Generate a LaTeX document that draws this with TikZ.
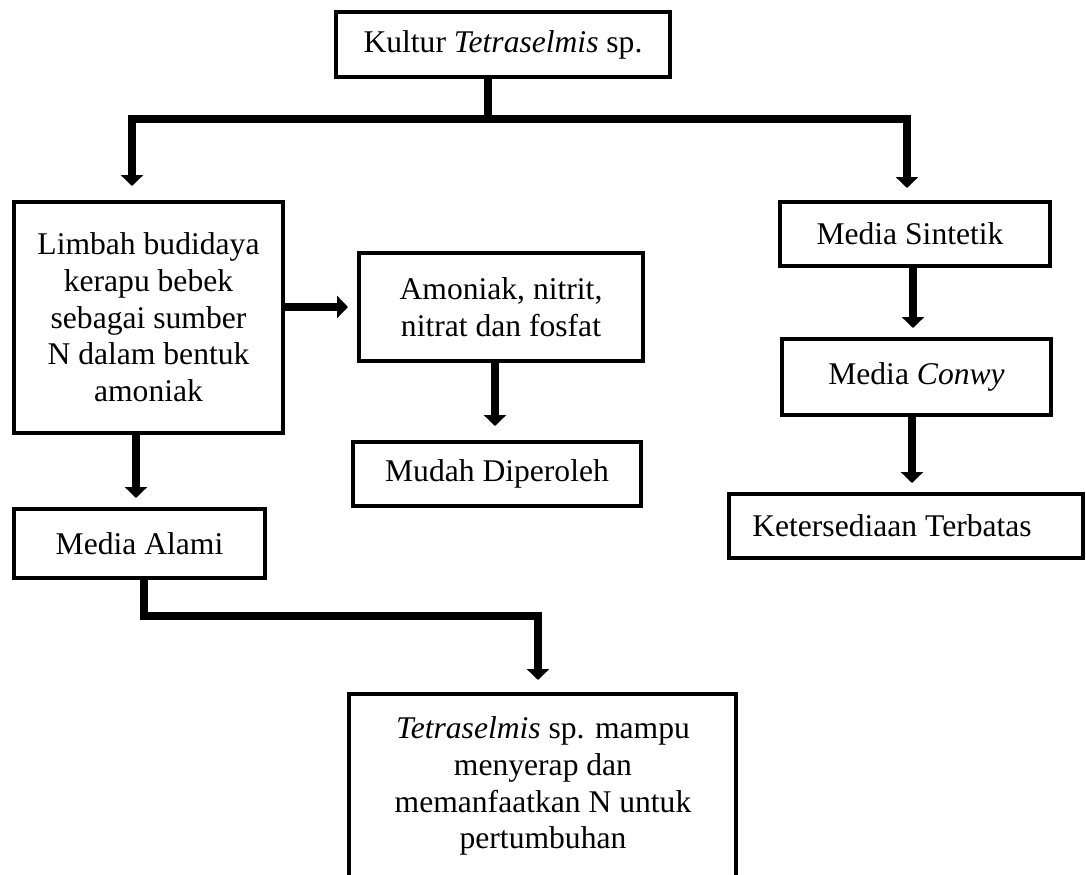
\documentclass[tikz,border=0pt]{standalone}
\usepackage{fontspec}
\setmainfont{Liberation Serif}
\usetikzlibrary{arrows.meta,calc}
\begin{document}
\begin{tikzpicture}[x=0.75pt,y=-0.75pt,
  txtfont/.style={font=\fontsize{23.7pt}{27.5pt}\selectfont},
  box/.style={draw, line width=3pt, inner sep=0pt, align=center, txtfont},
  txt/.style={inner sep=0pt, align=center, txtfont},
  conn/.style={line width=6.4pt, line join=miter},
  arr/.style={conn, -{Triangle[width=16.5pt,length=8.25pt]}}]
\useasboundingbox (0,0) rectangle (1086,875);
\clip (0,0) rectangle (1086,875);

\node[box, minimum width=250.5pt, minimum height=48.75pt] (top) at (503,44.5) {Kultur \textit{Tetraselmis} sp.};
\node[box, minimum width=201.75pt, minimum height=173.25pt] (limbah) at (148.5,317.5) {Limbah budidaya\\kerapu bebek\\sebagai sumber\\N dalam bentuk\\amoniak};
\node[box, minimum width=213pt, minimum height=81pt] (amon) at (501,307) {Amoniak, nitrit,\\nitrat dan fosfat};
\node[box, minimum width=216pt, minimum height=48pt] (mudah) at (497,474) {Mudah Diperoleh};
\node[box, minimum width=188.25pt, minimum height=51.75pt] (alami) at (139.5,543.5) {Media Alami};
\node[box, minimum width=202.5pt, minimum height=48pt] (sint) at (915,234) {Media Sintetik\hspace*{7.5pt}};
\node[box, minimum width=201.75pt, minimum height=57pt] (conwy) at (916.5,377) {Media \textit{Conwy}};
\node[box, minimum width=265.5pt, minimum height=48pt] (keter) at (906,526) {Ketersediaan Terbatas\hspace*{21pt}};
\node[box, minimum width=290.25pt, minimum height=228pt] (res) at (542.5,846) {};
\node[txt, anchor=north] (restext) at (543,716.5) {\textit{Tetraselmis} sp. mampu\\menyerap dan\\memanfaatkan N untuk\\pertumbuhan};

\coordinate (j) at (488,119);
\coordinate (jl) at (132,119);
\coordinate (jr) at (907,119);
\coordinate (k) at (538,616);

\draw[conn] (top.south -| j) -- ($(j)+(0,2)$);
\draw[arr, shorten >=10.5pt] (j) -| (limbah.north -| jl);
\draw[arr, shorten >=9pt] (j) -| (sint.north -| jr);
\draw[arr, shorten >=6.75pt] (limbah.east |- amon.west) -- (amon.west);
\draw[arr, shorten >=10.5pt] ($(amon.south)+(-6,0)$) -- ($(amon.south |- mudah.north)+(-6,0)$);
\draw[arr, shorten >=6.75pt] ($(limbah.south)+(-12.5,0)$) -- ($(limbah.south |- alami.north)+(-12.5,0)$);
\draw[arr, shorten >=9pt] ($(alami.south)+(4.5,0)$) |- (k) -- (k |- res.north);
\draw[arr, shorten >=6.75pt] ($(sint.south)+(-2,0)$) -- ($(sint.south |- conwy.north)+(-2,0)$);
\draw[arr, shorten >=6.75pt] ($(conwy.south)+(-4.5,0)$) -- ($(conwy.south |- keter.north)+(-4.5,0)$);
\end{tikzpicture}
\end{document}
